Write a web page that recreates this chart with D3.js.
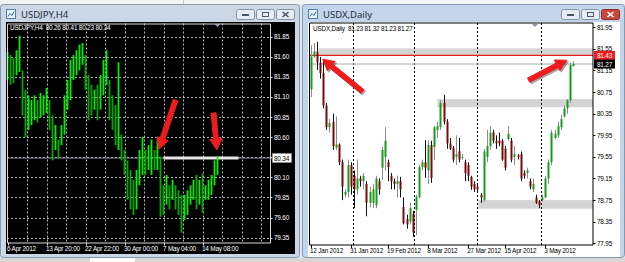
<!DOCTYPE html>
<html>
<head>
<meta charset="utf-8">
<script src="https://cdn.jsdelivr.net/npm/d3@7"></script>
<style>
  html, body { margin: 0; padding: 0; background: #dfe7f0; }
  svg { display: block; font-family: "Liberation Sans", Arial, sans-serif; }
  .sm { font-size: 6.4px; letter-spacing: -0.2px; }
</style>
</head>
<body>
<div id="chart"></div>
<script>
// ---- left window: USDJPY,H4 (high / low of each bar) ----
var jpyHigh = [81.66, 81.62, 81.58, 81.68, 81.86, 81.43, 81.19, 81.12, 81.06, 81.12,
               81.06, 81.15, 81.12, 81.21, 81.06, 80.87, 80.75, 80.57, 80.75, 81.12,
               81.31, 81.56, 81.62, 81.68, 81.75, 81.77, 81.62, 81.37, 81.25, 81.19,
               81.25, 81.37, 81.56, 81.68, 81.31, 81.12, 81.00, 81.53, 80.63, 80.44,
               80.31, 80.19, 80.07, 80.19, 80.44, 80.60, 80.44, 80.50, 80.57, 80.44,
               80.57, 80.36, 80.00, 80.13, 80.00, 80.07, 80.00, 79.94, 79.88, 79.88,
               79.94, 80.00, 80.07, 80.13, 80.07, 80.15, 80.00, 80.07, 80.13, 80.31,
               80.36];
var jpyLow  = [81.31, 81.25, 81.27, 81.37, 81.41, 80.87, 80.60, 80.69, 80.75, 80.81,
               80.78, 80.84, 80.87, 80.90, 80.69, 80.31, 80.44, 80.34, 80.50, 80.63,
               80.94, 81.06, 81.31, 81.37, 81.43, 81.50, 81.19, 80.81, 80.87, 80.94,
               80.81, 80.94, 81.12, 81.25, 80.81, 80.69, 80.50, 80.44, 80.31, 80.13,
               79.82, 79.70, 79.63, 79.70, 80.00, 80.13, 80.13, 80.19, 80.13, 80.19,
               80.19, 79.61, 79.63, 79.76, 79.70, 79.82, 79.70, 79.63, 79.41, 79.57,
               79.63, 79.76, 79.82, 79.70, 79.76, 79.66, 79.82, 79.82, 79.88, 80.00,
               80.13];
var jpyTicks = [81.85, 81.60, 81.35, 81.10, 80.85, 80.60, 80.35, 80.10, 79.85, 79.60, 79.35];
var jpyTimeLabels = ["6 Apr 2012", "13 Apr 20:00", "22 Apr 22:00", "30 Apr 00:00", "7 May 04:00", "14 May 08:00"];
var jpyTimeIdx = [0, 13, 26, 39, 52, 65];
var jpyHeader = "USDJPY,H4  80.26 80.41 80.23 80.34";
var jpyLevel = 80.34;
var jpyLevelFrom = 52;    // bar index where the white level bar starts
var jpyLevelTo = 77;
// arrows: [tailIdx, tailPrice, tipIdx, tipPrice]
var jpyArrows = [[56, 81.06, 50.5, 80.45], [68.7, 80.90, 69.8, 80.44]];

// ---- right window: USDX,Daily candles ----
var dxOpen  = [80.80, 81.41, 81.50, 81.30, 81.10, 80.50, 80.10, 80.20, 79.72, 79.78,
               79.45, 78.85, 78.90, 79.40, 79.20, 78.95, 79.15, 79.10, 79.05, 78.70,
               78.70, 78.65, 79.10, 79.35, 79.55, 79.45, 79.20, 79.10, 79.05, 79.10,
               78.62, 78.40, 78.35, 78.50, 78.57, 78.80, 79.36, 79.45, 79.30, 79.77,
               79.73, 80.05, 80.10, 80.55, 80.20, 79.80, 79.72, 79.55, 79.65, 79.55,
               79.45, 79.40, 79.18, 79.05, 79.00, 78.85, 78.75, 79.55, 79.75, 80.00,
               79.85, 79.85, 79.85, 79.70, 79.88, 79.85, 79.55, 79.58, 79.60, 79.25,
               79.25, 79.10, 78.95, 78.80, 78.72, 78.75, 78.80, 79.15, 79.45, 79.90,
               79.95, 80.10, 80.30, 80.45, 80.60, 81.23];
var dxHigh  = [81.62, 81.66, 81.68, 81.40, 81.34, 80.55, 80.25, 80.35, 80.30, 79.80,
               79.50, 78.95, 79.50, 79.45, 79.30, 79.50, 79.20, 79.25, 79.10, 79.00,
               79.05, 79.20, 79.15, 79.73, 80.10, 79.50, 79.25, 79.15, 79.20, 79.18,
               78.80, 78.48, 78.70, 78.55, 78.85, 79.40, 79.50, 79.86, 79.86, 79.85,
               80.12, 80.20, 80.60, 80.70, 80.25, 79.90, 79.75, 79.95, 79.90, 79.60,
               79.50, 79.45, 79.20, 79.10, 79.05, 78.88, 79.70, 80.05, 80.12, 80.05,
               79.95, 80.00, 79.88, 79.75, 80.12, 79.90, 79.75, 79.60, 79.65, 79.30,
               79.35, 79.15, 79.15, 78.85, 78.75, 78.85, 79.20, 79.50, 80.05, 80.05,
               80.20, 80.33, 80.50, 80.62, 81.30, 81.32];
var dxLow   = [80.66, 81.38, 81.16, 81.00, 80.45, 80.05, 80.00, 79.68, 79.68, 79.40,
               78.75, 78.80, 78.80, 78.85, 78.60, 78.85, 79.00, 78.95, 78.45, 78.62,
               78.60, 78.60, 78.85, 79.12, 79.30, 79.10, 78.95, 78.95, 78.80, 78.80,
               78.30, 78.22, 78.30, 78.07, 78.10, 78.78, 79.30, 79.16, 79.05, 79.07,
               79.49, 79.90, 80.05, 80.15, 79.70, 79.68, 79.45, 79.40, 79.45, 79.50,
               79.10, 79.10, 78.94, 78.90, 78.88, 78.70, 78.72, 79.45, 79.68, 79.80,
               79.70, 79.75, 79.48, 79.30, 79.85, 79.45, 79.40, 79.50, 79.10, 79.15,
               79.15, 78.95, 78.90, 78.68, 78.60, 78.72, 78.78, 79.05, 79.40, 79.88,
               79.90, 80.05, 80.28, 80.35, 80.55, 81.23];
var dxClose = [81.41, 81.50, 81.30, 81.10, 80.50, 80.10, 80.18, 79.75, 79.78, 79.45,
               79.00, 78.90, 79.40, 79.00, 78.95, 79.15, 79.10, 79.20, 78.70, 78.90,
               78.95, 79.15, 78.95, 79.68, 79.85, 79.36, 79.10, 79.05, 79.10, 78.95,
               78.32, 78.30, 78.60, 78.15, 78.81, 79.36, 79.45, 79.35, 79.77, 79.16,
               80.10, 80.12, 80.55, 80.20, 79.80, 79.70, 79.50, 79.60, 79.50, 79.55,
               79.25, 79.20, 79.00, 78.95, 78.95, 78.80, 79.65, 79.75, 80.00, 79.85,
               79.80, 79.80, 79.50, 79.35, 79.98, 79.50, 79.60, 79.55, 79.15, 79.20,
               79.30, 79.00, 79.05, 78.70, 78.66, 78.80, 79.15, 79.45, 80.00, 79.98,
               80.12, 80.25, 80.45, 80.60, 81.25, 81.27];
var dxTicks = [81.95, 81.55, 81.15, 80.75, 80.35, 79.95, 79.55, 79.15, 78.75, 78.35, 77.95];
var dxTimeLabels = ["12 Jan 2012", "31 Jan 2012", "19 Feb 2012", "8 Mar 2012", "27 Mar 2012", "15 Apr 2012", "3 May 2012"];
var dxTimeIdx = [0, 13, 25, 38, 51, 63, 76];
var dxSeparators = [13.5, 33.5, 54, 74.5];
var dxHeader = "USDX,Daily  81.23 81.32 81.23 81.27";
// zones: [fromIdx, priceTop, priceBottom]
var dxZones = [[2.6, 81.56, 81.42], [41, 80.62, 80.47], [54.3, 78.75, 78.59]];
var dxResistance = 81.43;
var dxBid = 81.27;
var dxArrows = [[16.7, 80.76, 3.8, 81.36], [70.6, 80.97, 83.0, 81.34]];

var W = 625, H = 262;
var svg = d3.select("#chart").append("svg").attr("width", W).attr("height", H);

// ---------- window chrome ----------
svg.append("rect").attr("x", 0).attr("y", 0).attr("width", W).attr("height", H).attr("fill", "#dfe7f0");
svg.append("rect").attr("x", 0).attr("y", 0).attr("width", W).attr("height", 4).attr("fill", "#f4f4f4");
svg.append("line").attr("x1", 183.5).attr("x2", 183.5).attr("y1", 0).attr("y2", 4).attr("stroke", "#c8c8c8");

function windowFrame(x, w, title, active) {
  var g = svg.append("g");
  g.append("rect").attr("x", x + 0.5).attr("y", 4.5).attr("width", w - 1).attr("height", 253)
    .attr("rx", 3).attr("fill", active ? "#c3d5ea" : "#cbd7e4").attr("stroke", "#8498ae");
  g.append("rect").attr("x", x + 6.5).attr("y", 9.5).attr("width", 9).attr("height", 9)
    .attr("fill", "#eef4fb").attr("stroke", "#4f7fb4");
  g.append("path").attr("d", "M" + (x + 8) + ",16.5 l2,-3 l2,2 l2,-4")
    .attr("fill", "none").attr("stroke", "#2e6db4").attr("stroke-width", 1);
  g.append("text").attr("x", x + 21).attr("y", 17.5).attr("font-size", "9.5px")
    .attr("font-family", "'Noto Sans', 'DejaVu Sans', sans-serif").attr("fill", "#1e2a3a").text(title);
  var bx = x + w - 64;
  ["min", "max", "close"].forEach(function(kind, k) {
    var b = bx + k * 20;
    var isRed = active && kind === "close";
    g.append("rect").attr("x", b + 0.5).attr("y", 9.5).attr("width", 18).attr("height", 10).attr("rx", 2)
      .attr("fill", isRed ? "#c9483c" : "#e6edf5").attr("stroke", isRed ? "#8a2a22" : "#8393a6");
    var ic = isRed ? "#ffffff" : "#4a5566";
    if (kind === "min") {
      g.append("rect").attr("x", b + 6).attr("y", 14).attr("width", 7).attr("height", 2).attr("fill", ic);
    } else if (kind === "max") {
      g.append("rect").attr("x", b + 6.5).attr("y", 12.5).attr("width", 6).attr("height", 4)
        .attr("fill", "none").attr("stroke", ic);
    } else {
      g.append("path").attr("d", "M" + (b + 6.5) + ",12 l6,5 M" + (b + 12.5) + ",12 l-6,5")
        .attr("stroke", ic).attr("stroke-width", 1.6);
    }
  });
  return g;
}
windowFrame(0, 300, "USDJPY,H4", false);
windowFrame(302, 323, "USDX,Daily", true);

// bottom tab strip
svg.append("rect").attr("x", 0).attr("y", 258).attr("width", W).attr("height", 4).attr("fill", "#d8d8d8");
svg.append("rect").attr("x", 90).attr("y", 258).attr("width", 45).attr("height", 4).attr("fill", "#ffffff");

function arrow(g, x1, y1, x2, y2) {
  var dx = x2 - x1, dy = y2 - y1, len = Math.sqrt(dx * dx + dy * dy);
  var ux = dx / len, uy = dy / len, nx = -uy, ny = ux;
  var hl = 11, hw = 6, sw = 2.4;
  var bxp = x2 - ux * hl, byp = y2 - uy * hl;
  var pts = [
    [x1 + nx * sw, y1 + ny * sw], [bxp + nx * sw, byp + ny * sw], [bxp + nx * hw, byp + ny * hw],
    [x2, y2], [bxp - nx * hw, byp - ny * hw], [bxp - nx * sw, byp - ny * sw], [x1 - nx * sw, y1 - ny * sw]
  ];
  var d = "M" + pts.map(function(p) { return p[0].toFixed(1) + "," + p[1].toFixed(1); }).join("L") + "Z";
  g.append("path").attr("d", d).attr("fill", "#000").attr("opacity", 0.35)
    .attr("transform", "translate(1.5,1.5)").attr("stroke", "#000").attr("stroke-width", 1).attr("stroke-linejoin", "round");
  g.append("path").attr("d", d).attr("fill", "#ee1c1c").attr("stroke", "#ee1c1c")
    .attr("stroke-width", 1).attr("stroke-linejoin", "round");
}

// ---------- left chart ----------
var L = {x0: 7, x1: 270, y0: 23.5, y1: 242.5};
var gl = svg.append("g");
gl.append("rect").attr("x", 6).attr("y", 22).attr("width", 289).attr("height", 232).attr("fill", "#000");

var xL = d3.scaleLinear().domain([0, 70]).range([7.5, 217.5]);
var yL = d3.scaleLinear().domain([79.35, 81.85]).range([237.6, 36.6]);

// grid
gl.selectAll("line.hg").data(jpyTicks).enter().append("line")
  .attr("x1", L.x0).attr("x2", L.x1)
  .attr("y1", function(d) { return Math.round(yL(d)) + 0.5; })
  .attr("y2", function(d) { return Math.round(yL(d)) + 0.5; })
  .attr("stroke", "#b4b4b4").attr("stroke-dasharray", "2,2");
gl.selectAll("line.vg").data(d3.range(6.5, 86, 6.5)).enter().append("line")
  .attr("x1", function(d) { return Math.round(xL(d)) + 0.5; })
  .attr("x2", function(d) { return Math.round(xL(d)) + 0.5; })
  .attr("y1", L.y0).attr("y2", L.y1)
  .attr("stroke", "#b4b4b4").attr("stroke-dasharray", "2,2");

// level line and white bar
gl.append("line").attr("x1", L.x0).attr("x2", L.x1 + 2)
  .attr("y1", yL(jpyLevel)).attr("y2", yL(jpyLevel)).attr("stroke", "#8c8c9c").attr("stroke-width", 1);
gl.append("rect").attr("x", xL(jpyLevelFrom)).attr("y", yL(jpyLevel) - 1.5)
  .attr("width", xL(jpyLevelTo) - xL(jpyLevelFrom)).attr("height", 3).attr("fill", "#e6e6e6");

// bars
var jpyBars = jpyHigh.map(function(h, i) { return {i: i, h: h, l: jpyLow[i]}; });
gl.selectAll("line.bar").data(jpyBars).enter().append("line")
  .attr("x1", function(d) { return xL(d.i); }).attr("x2", function(d) { return xL(d.i); })
  .attr("y1", function(d) { return yL(d.h); }).attr("y2", function(d) { return yL(d.l); })
  .attr("stroke", function(d) {
    if (d.i === 0) return "#00ff00";
    var p = jpyBars[d.i - 1];
    return (d.h + d.l) >= (p.h + p.l) ? "#00f000" : "#00a800";
  })
  .attr("stroke-width", 1.8);

// frame
gl.append("path").attr("d", "M" + L.x0 + "," + L.y0 + "H" + L.x1 + "V" + L.y1 + "H" + L.x0 + "Z")
  .attr("fill", "none").attr("stroke", "#d8d8d8").attr("stroke-width", 1)
  .attr("transform", "translate(0.5,0.5)");

// price axis
gl.selectAll("text.py").data(jpyTicks.filter(function(d) { return Math.abs(d - jpyLevel) > 0.05; }))
  .enter().append("text").attr("class", "sm")
  .attr("x", L.x1 + 4).attr("y", function(d) { return yL(d) + 2.5; })
  .attr("fill", "#ffffff").text(function(d) { return d.toFixed(2); });
gl.selectAll("line.pt").data(jpyTicks).enter().append("line")
  .attr("x1", L.x1).attr("x2", L.x1 + 2.5)
  .attr("y1", function(d) { return Math.round(yL(d)) + 0.5; })
  .attr("y2", function(d) { return Math.round(yL(d)) + 0.5; }).attr("stroke", "#d8d8d8");
gl.append("rect").attr("x", L.x1 + 2.5).attr("y", yL(jpyLevel) - 4.5).attr("width", 19).attr("height", 9)
  .attr("fill", "#ffffff").attr("stroke", "#9a9a9a").attr("stroke-width", 0.6);
gl.append("text").attr("class", "sm").attr("x", L.x1 + 4).attr("y", yL(jpyLevel) + 2.5)
  .attr("fill", "#000").text(jpyLevel.toFixed(2));

// time axis
gl.selectAll("text.tx").data(jpyTimeLabels).enter().append("text").attr("class", "sm")
  .attr("x", function(d, i) { return xL(jpyTimeIdx[i]) - 0.5; }).attr("y", 250.5)
  .attr("fill", "#ffffff").text(function(d) { return d; });
gl.selectAll("line.tt").data(jpyTimeIdx).enter().append("line")
  .attr("x1", function(d) { return Math.round(xL(d)) + 0.5; })
  .attr("x2", function(d) { return Math.round(xL(d)) + 0.5; })
  .attr("y1", L.y1).attr("y2", L.y1 + 3).attr("stroke", "#d8d8d8");

gl.append("text").attr("class", "sm").attr("x", 10).attr("y", 30).attr("fill", "#ffffff")
  .attr("xml:space", "preserve").style("white-space", "pre").text(jpyHeader);
gl.append("path").attr("d", "M" + (xL(70) - 3) + ",24 h6 l-3,3 Z").attr("fill", "#9aa4b4");

jpyArrows.forEach(function(a) { arrow(gl, xL(a[0]), yL(a[1]), xL(a[2]), yL(a[3])); });

// ---------- right chart ----------
var R = {x0: 309.5, x1: 593, y0: 23, y1: 245};
var gr = svg.append("g");
gr.append("rect").attr("x", 308).attr("y", 22).attr("width", 312).attr("height", 235).attr("fill", "#ffffff");

var xR = d3.scaleLinear().domain([0, 85]).range([311, 573]);
var yR = d3.scaleLinear().domain([77.95, 81.95]).range([243.3, 27.3]);

// zones
gr.selectAll("rect.zone").data(dxZones).enter().append("rect")
  .attr("x", function(d) { return xR(d[0]); }).attr("y", function(d) { return yR(d[1]); })
  .attr("width", function(d) { return R.x1 - xR(d[0]); })
  .attr("height", function(d) { return yR(d[2]) - yR(d[1]); })
  .attr("fill", "#d4d4d4");

gr.selectAll("line.sep").data(dxSeparators).enter().append("line")
  .attr("x1", function(d) { return Math.round(xR(d)) + 0.5; })
  .attr("x2", function(d) { return Math.round(xR(d)) + 0.5; })
  .attr("y1", R.y0).attr("y2", R.y1).attr("stroke", "#000").attr("stroke-dasharray", "2,2");

gr.append("line").attr("x1", R.x0).attr("x2", R.x1).attr("y1", yR(dxBid)).attr("y2", yR(dxBid))
  .attr("stroke", "#a0aab8");
gr.append("line").attr("x1", R.x0).attr("x2", R.x1).attr("y1", yR(dxResistance)).attr("y2", yR(dxResistance))
  .attr("stroke", "#ee1c1c").attr("stroke-width", 1.4);

// candles
var candles = dxOpen.map(function(o, i) {
  return {i: i, o: o, h: dxHigh[i], l: dxLow[i], c: dxClose[i]};
});
var cg = gr.selectAll("g.candle").data(candles).enter().append("g");
cg.append("line")
  .attr("x1", function(d) { return Math.round(xR(d.i)) + 0.5; })
  .attr("x2", function(d) { return Math.round(xR(d.i)) + 0.5; })
  .attr("y1", function(d) { return yR(d.h); }).attr("y2", function(d) { return yR(d.l); })
  .attr("stroke", function(d) { return d.c >= d.o ? "#8c8c8c" : "#101010"; });
cg.append("rect")
  .attr("x", function(d) { return Math.round(xR(d.i)) - 0.5; })
  .attr("y", function(d) { return yR(Math.max(d.o, d.c)); })
  .attr("width", 2)
  .attr("height", function(d) { return Math.max(1, Math.abs(yR(d.o) - yR(d.c))); })
  .attr("fill", function(d) { return d.c >= d.o ? "#1a9a1a" : "#7a0a0a"; });

// frame
gr.append("path").attr("d", "M" + R.x0 + "," + R.y0 + "H" + R.x1 + "V" + R.y1 + "H" + R.x0 + "Z")
  .attr("fill", "none").attr("stroke", "#000").attr("stroke-width", 1);

gr.selectAll("text.py").data(dxTicks).enter().append("text").attr("class", "sm")
  .attr("x", R.x1 + 4).attr("y", function(d) { return yR(d) + 2.5; })
  .attr("fill", "#000").text(function(d) { return d.toFixed(2); });
gr.selectAll("line.pt").data(dxTicks).enter().append("line")
  .attr("x1", R.x1).attr("x2", R.x1 + 2.5)
  .attr("y1", function(d) { return Math.round(yR(d)) + 0.5; })
  .attr("y2", function(d) { return Math.round(yR(d)) + 0.5; }).attr("stroke", "#000");

// price boxes
[[dxResistance, "#ee1c1c"], [dxBid, "#000000"]].forEach(function(b) {
  gr.append("rect").attr("x", R.x1 + 1).attr("y", yR(b[0]) - 4.5).attr("width", 21).attr("height", 9)
    .attr("fill", b[1]);
  gr.append("text").attr("class", "sm").attr("x", R.x1 + 4).attr("y", yR(b[0]) + 2.5)
    .attr("fill", "#ffffff").text(b[0].toFixed(2));
});

gr.selectAll("text.tx").data(dxTimeLabels).enter().append("text").attr("class", "sm")
  .attr("x", function(d, i) { return xR(dxTimeIdx[i]) - 1; }).attr("y", 253)
  .attr("fill", "#000").text(function(d) { return d; });
gr.selectAll("line.tt").data(dxTimeIdx).enter().append("line")
  .attr("x1", function(d) { return Math.round(xR(d)) + 0.5; })
  .attr("x2", function(d) { return Math.round(xR(d)) + 0.5; })
  .attr("y1", R.y1).attr("y2", R.y1 + 3).attr("stroke", "#000");

gr.append("text").attr("class", "sm").attr("x", 313).attr("y", 31).attr("fill", "#000")
  .attr("xml:space", "preserve").style("white-space", "pre").text(dxHeader);
gr.append("path").attr("d", "M" + 532 + ",24 h6 l-3,3 Z").attr("fill", "#8a94a4");

dxArrows.forEach(function(a) { arrow(gr, xR(a[0]), yR(a[1]), xR(a[2]), yR(a[3])); });
</script>
</body>
</html>
